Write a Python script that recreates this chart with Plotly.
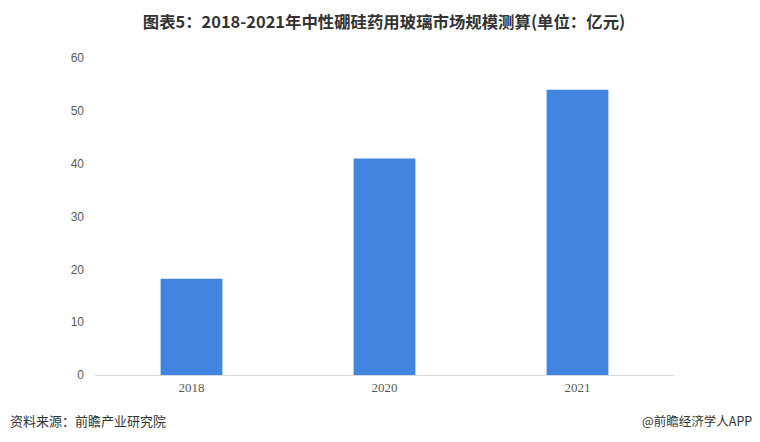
import plotly.graph_objects as go

years = ["2018", "2020", "2021"]
values = [18.2, 41.0, 54.0]
y_ticks = [0, 10, 20, 30, 40, 50, 60]

title_text = "图表5：2018-2021年中性硼硅药用玻璃市场规模测算(单位：亿元)"
source_text = "资料来源：前瞻产业研究院"
brand_text = "@前瞻经济学人APP"

# page has an 8px body margin, so the figure is drawn at (8, 8)
W, H = 752, 434
L, R, T, B = 87, 86, 50, 67
pw, ph = W - L - R, H - T - B

fig = go.Figure()
fig.add_trace(go.Bar(
    x=years, y=values,
    marker=dict(color="#4285E1", line=dict(width=0)),
    width=0.32,
))

fig.update_layout(
    width=W, height=H,
    margin=dict(l=L, r=R, t=T, b=B, autoexpand=False),
    paper_bgcolor="white", plot_bgcolor="white",
    showlegend=False,
    font=dict(family="Noto Sans CJK SC, sans-serif", color="#595959"),
    title=dict(
        text="<b>" + title_text + "</b>",
        x=0.5, xanchor="center", y=1 - 14 / H, yanchor="middle",
        font=dict(size=16.4, color="#333333", family="Noto Sans CJK SC, sans-serif"),
    ),
    xaxis=dict(
        type="category",
        showline=True, linecolor="#D9D9D9", linewidth=1,
        ticks="", showgrid=False,
        tickfont=dict(family="Liberation Serif, serif", size=13, color="#595959"),
    ),
    yaxis=dict(
        range=[0, 60], tickvals=y_ticks,
        showgrid=False, zeroline=False, showline=False,
        ticks="", ticklabelstandoff=10,
        tickfont=dict(family="Liberation Sans, Arial, sans-serif", size=12, color="#595959"),
    ),
    annotations=[
        dict(text=source_text, xref="paper", yref="paper", x=-L / pw, y=-(412 - (H - B)) / ph,
             xanchor="left", yanchor="middle", showarrow=False,
             font=dict(size=13, color="#333333", family="Noto Sans CJK SC, sans-serif")),
        dict(text=brand_text, xref="paper", yref="paper", x=(746 - L) / pw, y=-(412 - (H - B)) / ph,
             xanchor="right", yanchor="middle", showarrow=False,
             font=dict(size=12.5, color="#333333", family="Noto Sans CJK SC, sans-serif")),
    ],
)

fig.write_html("out.html")
